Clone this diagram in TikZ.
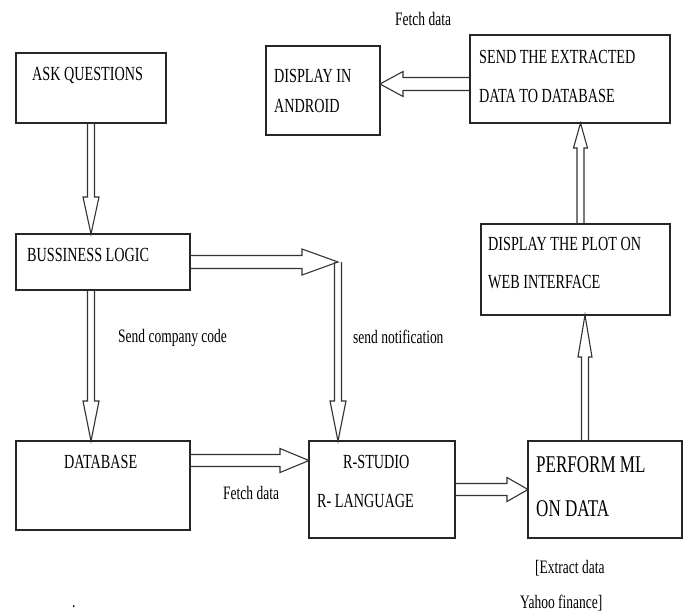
\documentclass[tikz,border=0pt]{standalone}
\usepackage{fontspec}
\setmainfont[FakeStretch=0.71]{Liberation Serif}
\usetikzlibrary{calc}

\tikzset{
  box/.style={draw=black!85, line width=1.1pt, inner sep=0pt, outer sep=0pt, anchor=north west},
  boxtext/.style={anchor=base west, inner sep=0pt, font=\fontsize{20}{24}\selectfont},
  bigtext/.style={boxtext, font=\fontsize{24}{28}\selectfont},
  lbl/.style={anchor=base west, inner sep=0pt, font=\fontsize{19}{23}\selectfont},
  arrowline/.style={draw=black!80, line width=1.1pt, line join=miter}
}

% hollow block arrow: shaft half width, head half width, head length, from, to
\newcommand{\hollowarrow}[5]{%
  \draw[arrowline] let \p1=(#4), \p2=(#5),
    \n1={atan2(\y2-\y1,\x2-\x1)}, \n2={veclen(\x2-\x1,\y2-\y1)} in
    [shift={(\p1)}, rotate=\n1]
    (0pt,#1pt) -- ({\n2*1pt-#3pt},#1pt) -- ({\n2*1pt-#3pt},#2pt) -- ({\n2*1pt},0pt)
    -- ({\n2*1pt-#3pt},-#2pt) -- ({\n2*1pt-#3pt},-#1pt) -- (0pt,-#1pt);}

\begin{document}
\begin{tikzpicture}[x=1pt, y=-1pt]
  \useasboundingbox (0,0) rectangle (693,611);

  % The boxes
  \node[box, minimum width=150pt, minimum height=70pt] (ask) at (16,53) {};
  \node[box, minimum width=174pt, minimum height=56pt] (bl) at (16,234) {};
  \node[box, minimum width=174pt, minimum height=89pt] (db) at (16,441) {};
  \node[box, minimum width=146pt, minimum height=97pt] (rs) at (309,441) {};
  \node[box, minimum width=154pt, minimum height=97pt] (pm) at (528,441) {};
  \node[box, minimum width=189pt, minimum height=91pt] (plot) at (481,224) {};
  \node[box, minimum width=200pt, minimum height=88pt] (send) at (470,35) {};
  \node[box, minimum width=114pt, minimum height=89pt] (andr) at (266,46) {};

  % Texts in the boxes
  \node[boxtext] (askt) at (32,80) {ASK QUESTIONS};
  \node[boxtext] (andrt1) at (274,82) {DISPLAY IN};
  \node[boxtext] (andrt2) at (274,112) {ANDROID};
  \node[boxtext] (sendt1) at (479,63) {SEND THE EXTRACTED};
  \node[boxtext] (sendt2) at (479,102) {DATA TO DATABASE};
  \node[boxtext] (blt) at (27,261) {BUSSINESS LOGIC};
  \node[boxtext] (plott1) at (488,250) {DISPLAY THE PLOT ON};
  \node[boxtext] (plott2) at (488,288) {WEB INTERFACE};
  \node[boxtext] (dbt) at (64,468) {DATABASE};
  \node[boxtext] (rst1) at (343,468) {R-STUDIO};
  \node[boxtext] (rst2) at (317,507) {R- LANGUAGE};
  \node[bigtext] (pmt1) at (536,472) {PERFORM ML};
  \node[bigtext] (pmt2) at (536,516) {ON DATA};

  % Labels
  \node[lbl] (fetchtop) at (395,25) {Fetch data};
  \node[lbl] (code) at (118,342) {Send company code};
  \node[lbl] (notif) at (353,343) {send notification};
  \node[lbl] (fetchbot) at (223,499) {Fetch data};
  \node[lbl] (yahoo1) at (535,573) {[Extract data};
  \node[lbl] (yahoo2) at (520,608) {Yahoo finance]};
  \node[lbl] (dot) at (72,607) {.};

  % Points where the arrows leave
  \coordinate (turn) at (338,262);
  \coordinate (dbout) at ([yshift=25pt]db.east);
  \coordinate (pmout) at ([xshift=-20pt]pm.north);
  \coordinate (plotout) at ([xshift=5pt]plot.north);
  \coordinate (sendout) at ([yshift=-5pt]send.west);

  % Arrows
  \hollowarrow{3.5}{8}{37}{ask.south}{ask.south |- bl.north}
  \hollowarrow{3.5}{8}{40}{ask.south |- bl.south}{ask.south |- db.north}
  \hollowarrow{6.5}{13}{36}{bl.east}{turn}
  \hollowarrow{3.5}{8}{40}{turn}{turn |- rs.north}
  \hollowarrow{6}{12}{29}{dbout}{dbout -| rs.west}
  \hollowarrow{6}{12}{21}{rs.east}{rs.east -| pm.west}
  \hollowarrow{3.5}{7}{42}{pmout}{pmout |- plot.south}
  \hollowarrow{3.5}{7}{25}{plotout}{plotout |- send.south}
  \hollowarrow{6.5}{12.5}{23}{sendout}{sendout -| andr.east}
\end{tikzpicture}
\end{document}
